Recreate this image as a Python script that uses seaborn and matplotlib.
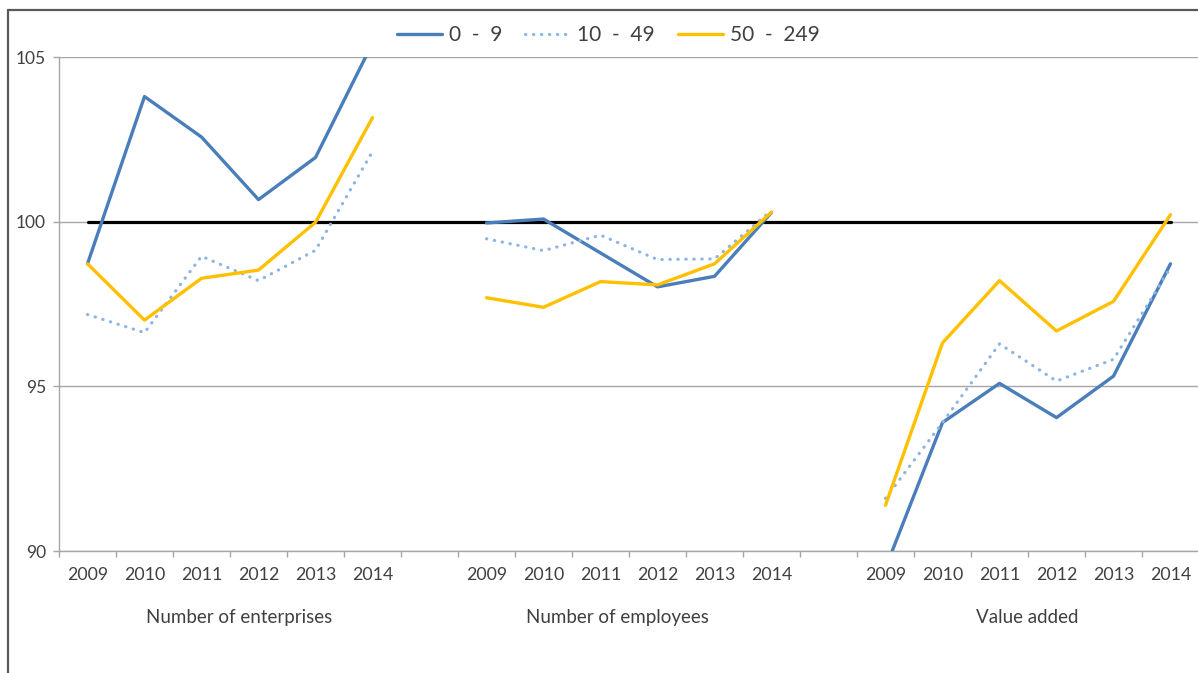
import numpy as np
import pandas as pd
import matplotlib
matplotlib.use("Agg")
import matplotlib.pyplot as plt
from matplotlib.lines import Line2D
import seaborn as sns

# ---------------- data ----------------
groups = ["Number of enterprises", "Number of employees", "Value added"]
years = ["2009", "2010", "2011", "2012", "2013", "2014"]
series_names = ["0  -  9", "10  -  49", "50  -  249"]

ent_0_9 = [98.72, 103.80, 102.57, 100.67, 101.95, 105.42]
ent_10_49 = [97.18, 96.63, 98.95, 98.21, 99.13, 102.13]
ent_50_249 = [98.72, 97.01, 98.28, 98.53, 99.98, 103.16]

emp_0_9 = [99.96, 100.08, 99.05, 98.02, 98.34, 100.28]
emp_10_49 = [99.48, 99.12, 99.59, 98.85, 98.87, 100.34]
emp_50_249 = [97.69, 97.40, 98.18, 98.08, 98.72, 100.29]

va_0_9 = [89.48, 93.90, 95.09, 94.05, 95.31, 98.72]
va_10_49 = [91.60, 93.90, 96.29, 95.16, 95.82, 98.60]
va_50_249 = [91.39, 96.32, 98.21, 96.68, 97.58, 100.21]

baseline_value = 100
y_ticks = [90, 95, 100, 105]

values = {
    groups[0]: [ent_0_9, ent_10_49, ent_50_249],
    groups[1]: [emp_0_9, emp_10_49, emp_50_249],
    groups[2]: [va_0_9, va_10_49, va_50_249],
}

# ---------------- long table ----------------
step = len(years) + 1  # one empty category between groups
rows = []
for gi, g in enumerate(groups):
    for si, s in enumerate(series_names):
        for yi, yr in enumerate(years):
            rows.append({"group": g, "series": s, "year": yr,
                         "pos": gi * step + yi, "value": values[g][si][yi]})
df = pd.DataFrame(rows)
n_cats = step * len(groups) - 1
base_df = pd.DataFrame({"pos": np.arange(n_cats), "value": [baseline_value] * n_cats})

# ---------------- style ----------------
sns.set_theme(style="white")
plt.rcParams["font.family"] = ["Lato", "DejaVu Sans"]
text_col = "#404040"
grid_col = "#A6A6A6"

styles = {
    series_names[0]: dict(color="#4A7EBB", lw=2.4, linestyle="-", solid_capstyle="round"),
    series_names[1]: dict(color="#8EB4E3", lw=2.3, linestyle=(0, (0.1, 2.4)), dash_capstyle="round"),
    series_names[2]: dict(color="#FFC000", lw=2.4, linestyle="-", solid_capstyle="round"),
}

W, H = 1198, 673
fig = plt.figure(figsize=(W / 100, H / 100), dpi=100)
ax = fig.add_axes([59 / W, 1 - 551 / H, (1199 - 59) / W, (551 - 57) / H])

# baseline at 100
sns.lineplot(data=base_df, x="pos", y="value", ax=ax, color="black", lw=2.3,
             estimator=None, legend=False, zorder=3)

for s in series_names:
    for g in groups:
        sub = df[(df["series"] == s) & (df["group"] == g)]
        sns.lineplot(data=sub, x="pos", y="value", ax=ax, estimator=None,
                     sort=False, legend=False, zorder=4, **styles[s])

ax.set_ylim(y_ticks[0], y_ticks[-1])
ax.set_xlim(-0.5, n_cats - 0.5)
ax.set_xlabel("")
ax.set_ylabel("")

# y axis
ax.set_yticks(y_ticks)
ax.set_yticklabels([str(v) for v in y_ticks])
ax.yaxis.grid(True, color=grid_col, lw=1.0)
ax.set_axisbelow(True)
ax.tick_params(axis="y", which="major", left=True, length=4.3, width=1,
               color=grid_col, pad=5, labelsize=12.5, labelcolor=text_col)

# x axis: year labels at category centers, tick marks at boundaries
year_pos = df.drop_duplicates("pos")["pos"].tolist()
year_lab = df.drop_duplicates("pos")["year"].tolist()
ax.set_xticks(year_pos)
ax.set_xticklabels(year_lab)
ax.set_xticks(np.arange(n_cats + 1) - 0.5, minor=True)
ax.tick_params(axis="x", which="major", length=0, pad=11.5, labelsize=12.8,
               labelcolor=text_col)
ax.tick_params(axis="x", which="minor", bottom=True, length=4.3, width=1,
               color=grid_col)

for side in ["top", "right"]:
    ax.spines[side].set_visible(False)
for side in ["left", "bottom"]:
    ax.spines[side].set_color(grid_col)
    ax.spines[side].set_linewidth(1.0)

# group labels
group_centers = [2.66, 9.3, 16.48]
for g, xc in zip(groups, group_centers):
    ax.text(xc, -0.1356, g, transform=ax.get_xaxis_transform(), ha="center",
            va="center", fontsize=13.5, color=text_col)

# legend
handles = [Line2D([0], [0], **styles[s]) for s in series_names]
fig.legend(handles, series_names, loc="center", bbox_to_anchor=(608 / W, 1 - 35 / H),
           ncol=3, frameon=False, fontsize=15, handlelength=2.2, handletextpad=0.3,
           columnspacing=1.1, labelcolor=text_col)

# outer frame (cropped chart border)
fig.add_artist(Line2D([8 / W, 8 / W], [0, 1 - 10 / H], transform=fig.transFigure,
                      color="#595959", lw=1.6))
fig.add_artist(Line2D([8 / W, 1], [1 - 10 / H, 1 - 10 / H], transform=fig.transFigure,
                      color="#595959", lw=1.6))

fig.savefig("out.png", dpi=100)
